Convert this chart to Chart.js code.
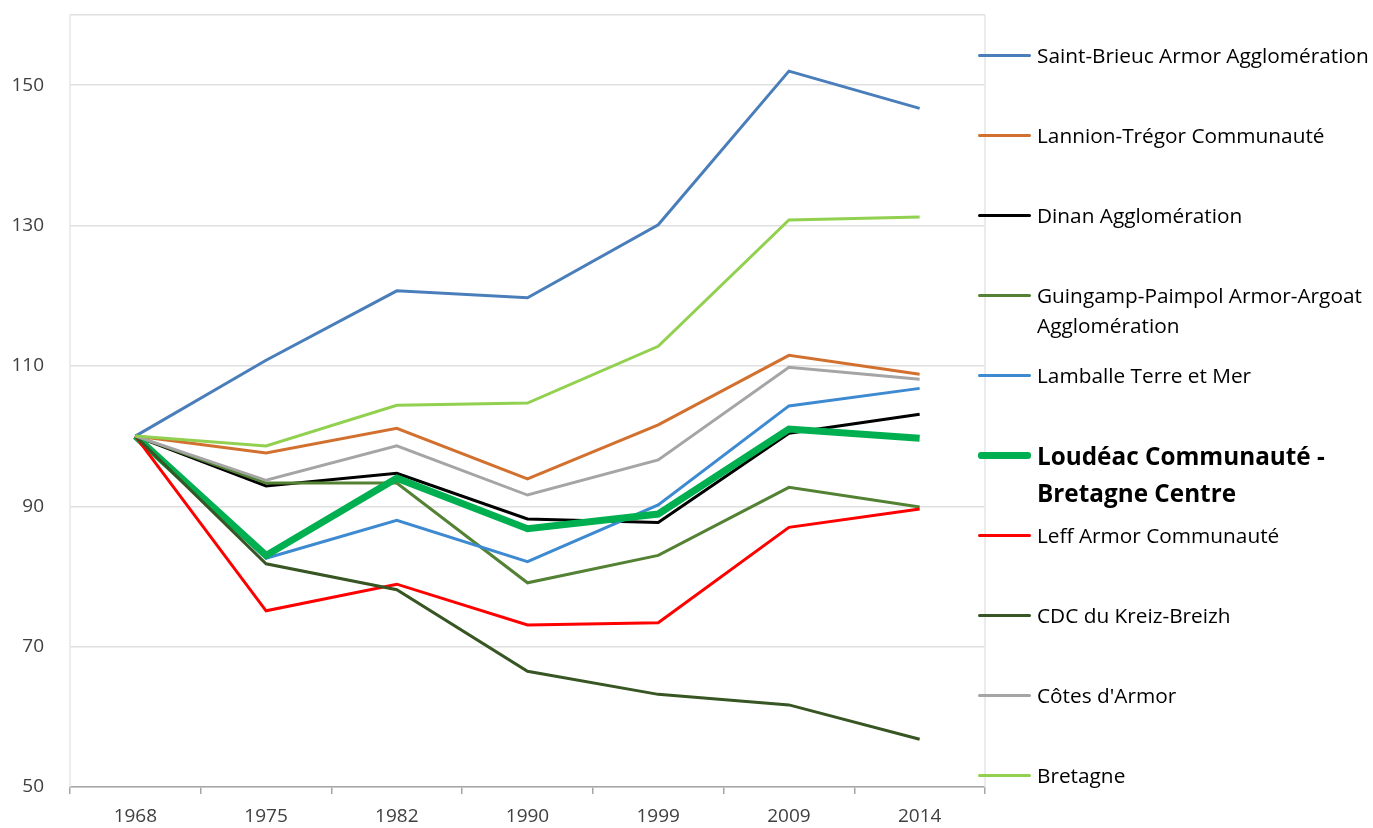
<!DOCTYPE html>
<html>
<head>
<meta charset="utf-8">
<script src="https://cdn.jsdelivr.net/npm/chart.js@4"></script>
<style>
  body { margin: 0; background: #fff; }
  #wrap { position: relative; width: 1373px; height: 828px; }
  #legend { position: absolute; left: 0; top: 0; font-family: "Open Sans", sans-serif; color: #000; }
  .item { position: absolute; left: 978px; }
  .item .ln { position: absolute; left: 0; width: 53px; border-radius: 3px; }
  .item .tx { position: absolute; left: 59px; font-size: 20.8px; line-height: 30px; }
  .item .tx.big { font-size: 24.3px; font-weight: bold; line-height: 37px; }
</style>
</head>
<body>
<div id="wrap">
  <canvas id="chart" width="1373" height="828"></canvas>
  <div id="legend"></div>
</div>
<script>
// --- data ---
const years = ["1968", "1975", "1982", "1990", "1999", "2009", "2014"];

const saintBrieuc = [100, 110.8, 120.7, 119.7, 130.1, 152.0, 146.7];
const lannion     = [100, 97.6, 101.1, 93.9, 101.6, 111.5, 108.8];
const dinan       = [100, 92.9, 94.7, 88.2, 87.7, 100.4, 103.1];
const guingamp    = [100, 93.3, 93.3, 79.1, 83.0, 92.7, 89.9];
const lamballe    = [100, 82.6, 88.0, 82.1, 90.2, 104.3, 106.8];
const loudeac     = [100, 83.0, 94.0, 86.8, 88.9, 101.0, 99.7];
const leffArmor   = [100, 75.1, 78.9, 73.1, 73.4, 87.0, 89.6];
const kreizBreizh = [100, 81.8, 78.1, 66.5, 63.2, 61.7, 56.8];
const cotesArmor  = [100, 93.7, 98.6, 91.6, 96.6, 109.8, 108.1];
const bretagne    = [100, 98.6, 104.4, 104.7, 112.8, 130.8, 131.2];

const yTicks = [50, 70, 90, 110, 130, 150];

const series = [
    { label: "Saint-Brieuc Armor Agglomération", data: saintBrieuc, color: "#4A7EBB", width: 3 },
    { label: "Lannion-Trégor Communauté", data: lannion, color: "#D2712F", width: 3 },
    { label: "Dinan Agglomération", data: dinan, color: "#000000", width: 3 },
    { label: "Guingamp-Paimpol Armor-Argoat Agglomération", data: guingamp, color: "#548235", width: 3 },
    { label: "Lamballe Terre et Mer", data: lamballe, color: "#3D8AD1", width: 3 },
    { label: "Loudéac Communauté - Bretagne Centre", data: loudeac, color: "#00B050", width: 7, big: true },
    { label: "Leff Armor Communauté", data: leffArmor, color: "#FF0000", width: 3 },
    { label: "CDC du Kreiz-Breizh", data: kreizBreizh, color: "#375623", width: 3 },
    { label: "Côtes d'Armor", data: cotesArmor, color: "#A5A5A5", width: 3 },
    { label: "Bretagne", data: bretagne, color: "#92D050", width: 3 }
];

// --- left/right frame lines of the plot area ---
const framePlugin = {
    id: "frame",
    beforeDatasetsDraw(chart) {
        const { ctx, chartArea: a } = chart;
        ctx.save();
        ctx.strokeStyle = "#E6E6E6";
        ctx.lineWidth = 1.5;
        ctx.beginPath();
        ctx.moveTo(a.left, a.top);
        ctx.lineTo(a.left, a.bottom);
        ctx.moveTo(a.right, a.top);
        ctx.lineTo(a.right, a.bottom);
        ctx.stroke();
        ctx.restore();
    }
};

const n = series.length;
new Chart(document.getElementById("chart"), {
    type: "line",
    data: {
        labels: years,
        datasets: series.map((s, i) => ({
            label: s.label,
            data: s.data,
            borderColor: s.color,
            backgroundColor: s.color,
            borderWidth: s.width,
            pointRadius: 0,
            tension: 0,
            order: n - i
        }))
    },
    options: {
        responsive: false,
        animation: false,
        layout: { padding: { top: 15, right: 388, left: 0, bottom: 0 } },
        plugins: { legend: { display: false }, tooltip: { enabled: false } },
        scales: {
            x: {
                offset: true,
                grid: {
                    offset: true,
                    drawOnChartArea: false,
                    drawTicks: true,
                    tickLength: 7,
                    color: "#A6A6A6",
                    lineWidth: 1.5
                },
                border: { color: "#A6A6A6", width: 1.5 },
                ticks: {
                    color: "#404040",
                    font: { family: "Open Sans", size: 19 },
                    padding: 11,
                    maxRotation: 0
                },
                afterFit(scale) { scale.height = 41; }
            },
            y: {
                min: 50,
                max: 160,
                afterBuildTicks(scale) {
                    scale.ticks = yTicks.concat([160]).map(v => ({ value: v }));
                },
                grid: { color: "#E0E0E0", lineWidth: 1.5, drawTicks: false },
                border: { display: false },
                ticks: {
                    color: "#404040",
                    font: { family: "Open Sans", size: 19 },
                    padding: 26,
                    callback: v => (yTicks.includes(v) ? v : "")
                },
                afterFit(scale) {
                    scale.width = 70;
                    scale.paddingTop = 0;
                    scale.paddingBottom = 0;
                }
            }
        }
    },
    plugins: [framePlugin]
});

// --- legend (HTML, right side) ---
const legend = document.getElementById("legend");
series.forEach((s, i) => {
    const y = 55 + i * 80;
    const item = document.createElement("div");
    item.className = "item";
    item.style.top = y + "px";
    const ln = document.createElement("div");
    ln.className = "ln";
    ln.style.background = s.color;
    ln.style.height = s.width + "px";
    ln.style.top = (-s.width / 2) + "px";
    const tx = document.createElement("div");
    tx.className = "tx" + (s.big ? " big" : "");
    tx.style.top = (s.big ? -18.5 : -15) + "px";
    tx.style.width = s.big ? "300px" : "335px";
    tx.textContent = s.label;
    item.appendChild(ln);
    item.appendChild(tx);
    legend.appendChild(item);
});
</script>
</body>
</html>
